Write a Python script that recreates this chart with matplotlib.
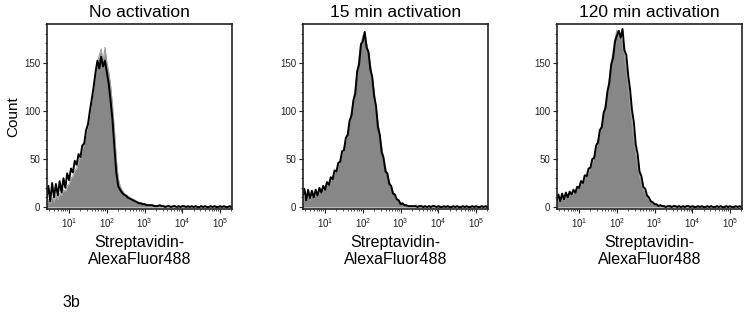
import numpy as np
import matplotlib
matplotlib.use('Agg')
from matplotlib import pyplot as plt
from matplotlib.ticker import MultipleLocator, LogLocator, NullFormatter

plt.rcParams['font.family'] = ['Liberation Sans', 'DejaVu Sans']
plt.rcParams['mathtext.fontset'] = 'custom'
plt.rcParams['mathtext.rm'] = 'Liberation Sans'
plt.rcParams['mathtext.it'] = 'Liberation Sans'

titles = ['No activation', '15 min activation', '120 min activation']
x_label = 'Streptavidin-\nAlexaFluor488'

# bin centres in log10 units (0.40 .. 5.35, 0.05 steps)
log_bins = np.round(np.arange(0.40, 5.351, 0.05), 2)

# counts from 0.40 to 3.30
no_act_black = [8, 22, 6, 25, 10, 24, 12, 27, 15, 30, 20, 35, 28, 40, 36, 48, 44, 55, 52, 64,
                66, 80, 86, 100, 112, 125, 140, 152, 144, 156, 146, 152, 140, 128, 110, 90, 62, 36, 22, 18,
                15, 13, 12, 10, 9, 8, 7, 6, 5, 4, 4, 3, 3, 2, 2, 2, 2, 1, 1]
no_act_gray = [4, 8, 3, 10, 6, 12, 8, 14, 12, 18, 16, 22, 24, 30, 32, 38, 40, 48, 52, 60,
               66, 76, 84, 96, 110, 124, 138, 150, 158, 164, 150, 166, 150, 140, 126, 105, 80, 50, 30, 22,
               18, 15, 13, 12, 10, 9, 8, 7, 6, 5, 4, 4, 3, 3, 2, 2, 2, 2, 1]
min15_black = [10, 19, 7, 18, 9, 17, 10, 18, 12, 20, 15, 22, 18, 26, 23, 31, 29, 38, 37, 46,
               47, 58, 59, 72, 75, 90, 95, 111, 118, 141, 148, 169, 172, 182, 166, 161, 143, 135, 115, 105,
               83, 75, 57, 51, 37, 35, 24, 22, 14, 13, 8, 7, 3, 4, 2, 2, 1, 1, 1]
min15_gray = [5, 10, 6, 12, 7, 13, 9, 14, 11, 16, 14, 19, 19, 23, 24, 28, 31, 35, 39, 43,
              49, 55, 62, 69, 78, 88, 99, 110, 124, 140, 156, 170, 178, 176, 170, 160, 148, 134, 120, 104,
              88, 74, 62, 50, 42, 34, 27, 21, 16, 12, 9, 7, 5, 3, 2, 2, 1, 1, 1]
min120_black = [6, 13, 6, 14, 8, 15, 10, 16, 13, 18, 15, 21, 20, 27, 25, 33, 32, 40, 41, 50,
                51, 64, 67, 80, 83, 98, 103, 120, 129, 148, 155, 172, 178, 183, 176, 185, 163, 158, 137, 122,
                101, 88, 65, 55, 37, 32, 21, 19, 12, 10, 6, 5, 3, 3, 1, 2, 1, 1, 0]
min120_gray = [3, 8, 5, 10, 7, 12, 9, 13, 12, 15, 16, 19, 21, 24, 26, 30, 33, 37, 42, 47,
               53, 61, 69, 77, 86, 97, 108, 120, 134, 150, 162, 174, 184, 176, 180, 170, 158, 142, 124, 106,
               88, 70, 55, 42, 32, 24, 18, 14, 10, 8, 6, 4, 3, 2, 1, 1, 1, 1, 0]

# counts from 3.35 to 5.35
tail_a = [1, 2, 1, 1, 0, 1, 1, 0, 1, 1, 0, 1, 0, 1, 1, 0, 1, 0, 1, 0,
          1, 0, 0, 1, 0, 1, 0, 0, 1, 0, 1, 0, 0, 1, 0, 1, 0, 0, 1, 0, 1]
tail_b = [1, 1, 0, 1, 1, 0, 1, 0, 1, 0, 1, 1, 0, 1, 0, 0, 1, 0, 1, 0,
          0, 1, 0, 1, 0, 0, 1, 0, 1, 0, 0, 1, 0, 1, 0, 0, 1, 0, 1, 0, 1]

black_series = [no_act_black + tail_a, min15_black + tail_b, min120_black + tail_b]
gray_series = [no_act_gray + tail_b, min15_gray + tail_a, min120_gray + tail_a]

fig = plt.figure(figsize=(7.5, 3.16), dpi=100)
lefts = [0.0627, 0.404, 0.7427]

x = 10 ** log_bins
for i in range(3):
    ax = fig.add_axes([lefts[i], 0.3386, 0.247, 0.585])
    gray = np.array(gray_series[i])
    black = np.array(black_series[i])
    ax.fill_between(x, gray, color='#878787', linewidth=0)
    ax.plot(x, gray, color='#a0a0a0', linewidth=0.8)
    ax.plot(x, black, color='black', linewidth=1.4)
    ax.set_xscale('log')
    ax.set_xlim(2.6, 2.1e5)
    ax.set_ylim(-2, 190)
    ax.set_xticks([1e1, 1e2, 1e3, 1e4, 1e5])
    ax.set_xticklabels([r'$10^{%d}$' % k for k in range(1, 6)])
    ax.xaxis.set_minor_locator(LogLocator(base=10, subs=np.arange(2, 10), numticks=20))
    ax.xaxis.set_minor_formatter(NullFormatter())
    ax.set_yticks([0, 50, 100, 150])
    ax.yaxis.set_minor_locator(MultipleLocator(10))
    ax.tick_params(axis='both', which='major', labelsize=7, length=3, width=0.8,
                   colors='#222222', pad=2)
    ax.tick_params(axis='both', which='minor', length=1.5, width=0.6, colors='#333333')
    for sp in ax.spines.values():
        sp.set_linewidth(1.2)
        sp.set_color('#222222')
    ax.set_title(titles[i], fontsize=12.5, pad=5)
    ax.set_xlabel(x_label, fontsize=11.5, labelpad=4, linespacing=1.15)
    if i == 0:
        ax.set_ylabel('Count', fontsize=11, labelpad=3)

fig.text(0.083, 0.044, '3b', fontsize=11.5, va='center', ha='left')

fig.savefig('out.png', dpi=100)
